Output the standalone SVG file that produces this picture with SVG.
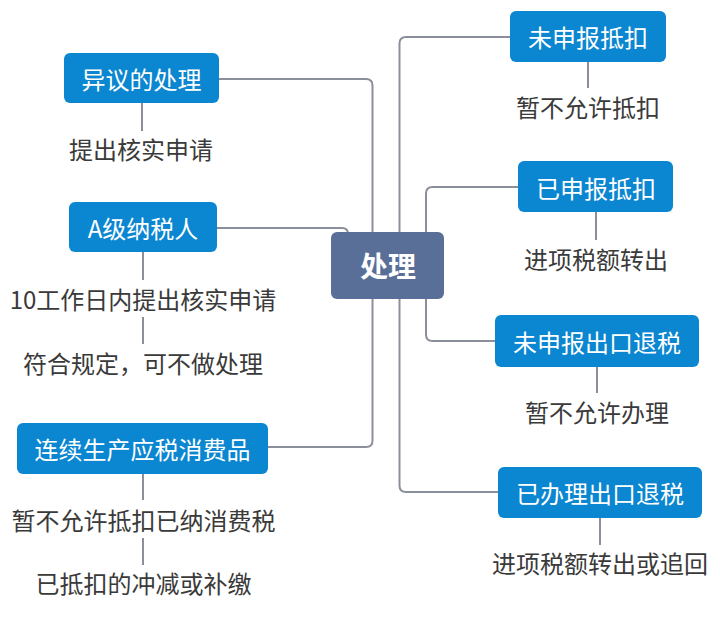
<svg xmlns="http://www.w3.org/2000/svg" width="720" height="618" viewBox="0 0 720 618">
<style>
.box{fill:#0b86d0}
.ctr{fill:#5a6f98}
.bt{fill:#ffffff;font-family:"Noto Sans CJK SC","Noto Sans",sans-serif;font-size:24px;text-anchor:middle;dominant-baseline:central}
.ct{fill:#ffffff;font-family:"Noto Sans CJK SC","Noto Sans",sans-serif;font-size:28px;font-weight:bold;text-anchor:middle;dominant-baseline:central}
.lt{fill:#3a3a3a;font-family:"Noto Sans CJK SC","Noto Sans",sans-serif;font-size:24px;text-anchor:middle;dominant-baseline:central}
.ln{fill:none;stroke:#8b8f9b;stroke-width:2}
</style>
<rect width="720" height="618" fill="#ffffff"/>
<g id="connectors">
<path class="ln" d="M219,79 H366 Q372.5,79 372.5,85.5 V232"/>
<path class="ln" d="M217,228 H342 Q348,228 348,234"/>
<path class="ln" d="M268,447 H366 Q372.5,447 372.5,440.5 V299"/>
<path class="ln" d="M399.5,232 V43.5 Q399.5,37 406,37 H510"/>
<path class="ln" d="M426,232 V193.5 Q426,187 432.5,187 H518"/>
<path class="ln" d="M426,299 V334.5 Q426,341 432.5,341 H495"/>
<path class="ln" d="M399.5,299 V485.5 Q399.5,492 406,492 H498"/>
<path class="ln" d="M142,103 V131"/>
<path class="ln" d="M143,252 V280"/>
<path class="ln" d="M143,317 V344"/>
<path class="ln" d="M143,474 V500"/>
<path class="ln" d="M143,538 V565"/>
<path class="ln" d="M588,62 V88"/>
<path class="ln" d="M596,212 V240"/>
<path class="ln" d="M597,367 V393"/>
<path class="ln" d="M600,518 V545"/>
</g>
<g id="center">
<rect class="ctr" x="331" y="232" width="113" height="67" rx="6"/>
<text class="ct" x="388" y="265">处理</text>
</g>
<g id="n-yiyi">
<rect class="box" x="64" y="53" width="155" height="50" rx="6"/>
<text class="bt" x="141.5" y="78">异议的处理</text>
<text class="lt" x="141" y="148">提出核实申请</text>
</g>
<g id="n-a">
<rect class="box" x="69" y="202" width="148" height="50" rx="6"/>
<text class="bt" x="143" y="227">A级纳税人</text>
<text class="lt" x="143" y="298">10工作日内提出核实申请</text>
<text class="lt" x="143" y="362">符合规定，可不做处理</text>
</g>
<g id="n-lianxu">
<rect class="box" x="17" y="423" width="251" height="51" rx="6"/>
<text class="bt" x="142.5" y="448">连续生产应税消费品</text>
<text class="lt" x="143.5" y="519">暂不允许抵扣已纳消费税</text>
<text class="lt" x="143.5" y="582">已抵扣的冲减或补缴</text>
</g>
<g id="n-weishenbaodikou">
<rect class="box" x="510" y="11" width="156" height="51" rx="6"/>
<text class="bt" x="588" y="36">未申报抵扣</text>
<text class="lt" x="588" y="106">暂不允许抵扣</text>
</g>
<g id="n-yishenbaodikou">
<rect class="box" x="518" y="161" width="155" height="51" rx="6"/>
<text class="bt" x="596" y="187">已申报抵扣</text>
<text class="lt" x="596" y="258">进项税额转出</text>
</g>
<g id="n-weishenbaotuishui">
<rect class="box" x="495" y="315" width="204" height="52" rx="6"/>
<text class="bt" x="597" y="341">未申报出口退税</text>
<text class="lt" x="597" y="411">暂不允许办理</text>
</g>
<g id="n-yibanlituishui">
<rect class="box" x="498" y="467" width="204" height="51" rx="6"/>
<text class="bt" x="600" y="492">已办理出口退税</text>
<text class="lt" x="600" y="562">进项税额转出或追回</text>
</g>
</svg>
